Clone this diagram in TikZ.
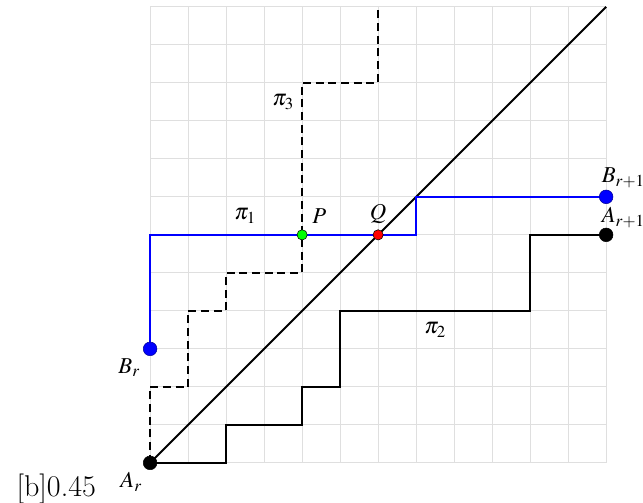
\documentclass[tikz,border=0pt]{standalone}
\usepackage{amsmath,amsfonts,amssymb}
\usepackage{mathptmx}
\usepackage{tikz}
\usetikzlibrary{positioning, arrows.meta}

\begin{document}
\begin{tikzpicture}[
    gridline/.style={draw=gray!25, line width=0.6pt},
    pathblue/.style={draw=blue, line width=2pt},
    pathblack/.style={draw=black, line width=2pt},
    diagline/.style={draw=black, line width=1.5pt},
    pathdash/.style={draw=black, line width=2pt, dash pattern=on 6pt off 3.5pt},
    bigdot/.style={circle, draw=black, inner sep=0pt, minimum size=0.36cm},
    smalldot/.style={circle, draw=black, thin, inner sep=0pt, minimum size=0.27cm},
    lbl/.style={font=\fontsize{17}{19}\selectfont, inner sep=1pt}]

  \useasboundingbox (-3.95,-1.03) rectangle (12.97,12.18);

  % === Grid ===
  \draw[gridline] (0,0) grid (12,12);

  % === End points of the paths ===
  \coordinate (Ar) at (0,0);
  \coordinate (Br) at (0,3);
  \coordinate (Ar1) at (12,6);
  \coordinate (Br1) at (12,7);
  \coordinate (P) at (4,6);
  \coordinate (Q) at (6,6);
  \coordinate (diagend) at (12,12);
  \coordinate (dashend) at (6,12);

  % === Paths ===
  \draw[pathdash] (Ar) -- (0,2) -- (1,2) -- (1,4) -- (2,4) -- (2,5) -- (4,5)
    -- (P) -- (4,10) -- (6,10) -- (dashend);
  \draw[pathblack] (Ar) -- (2,0) -- (2,1) -- (4,1) -- (4,2) -- (5,2) -- (5,4)
    -- (10,4) -- (10,6) -- (Ar1);
  \draw[diagline] (Ar) -- (diagend);
  \draw[pathblue] (Br) -- (0,6) -- (P) -- (Q) -- (7,6) -- (7,7) -- (Br1);

  % === Points ===
  \node[bigdot, fill=black] (ar) at (Ar) {};
  \node[bigdot, fill=black] (ar1) at (Ar1) {};
  \node[bigdot, fill=blue, draw=blue!60!black] (br) at (Br) {};
  \node[bigdot, fill=blue, draw=blue!60!black] (br1) at (Br1) {};
  \node[smalldot, fill=green] (p) at (P) {};
  \node[smalldot, fill=red] (q) at (Q) {};

  % === Labels ===
  \node[lbl] (lblar) at (-0.5,-0.5) {$A_r$};
  \node[lbl] (lblbr) at (-0.55,2.5) {$B_r$};
  \node[lbl] (lblar1) at (12.45,6.45) {$A_{r+1}$};
  \node[lbl] (lblbr1) at (12.45,7.5) {$B_{r+1}$};
  \node[lbl] (lblp) at (4.45,6.5) {$P$};
  \node[lbl] (lblq) at (6,6.55) {$Q$};
  \node[lbl] (pi1) at (2.5,6.5) {$\pi_1$};
  \node[lbl] (pi2) at (7.5,3.5) {$\pi_2$};
  \node[lbl] (pi3) at (3.5,9.5) {$\pi_3$};
  \node[font=\fontsize{22.5}{25}\selectfont, anchor=base] (stray) at (-2.47,-0.89) {[b]0.45};

\end{tikzpicture}
\end{document}
